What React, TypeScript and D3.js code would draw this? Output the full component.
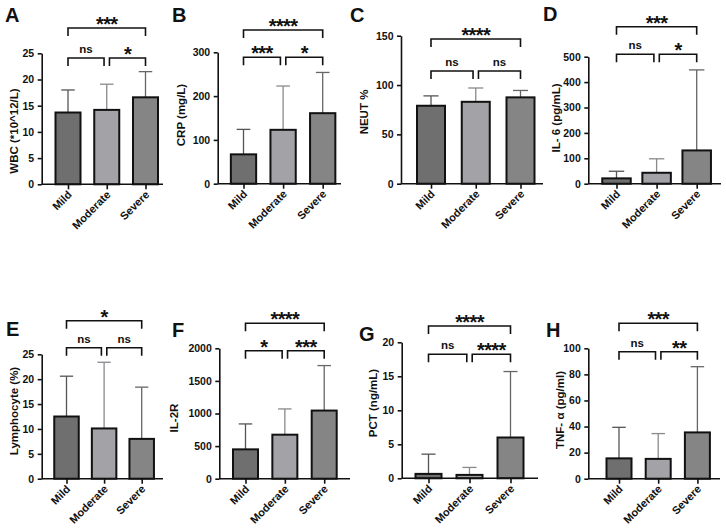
import React, { useEffect, useRef } from 'react';
import * as d3 from 'd3';

const FONT = '"Liberation Sans", Arial, Helvetica, sans-serif';

const groups = ['Mild', 'Moderate', 'Severe'];
const fills = ['#6f6f6f', '#a2a2a7', '#858585'];
const errColors = ['#555555', '#8a8a8e', '#666666'];

// means and upper SD
const wbcMean = [13.7, 14.2, 16.6];
const wbcSd = [4.3, 4.9, 4.9];
const wbcTicks = [0, 5, 10, 15, 20, 25];
const wbcSig = ['***', 'ns', '*'];

const crpMean = [67, 123, 161];
const crpSd = [57, 100, 93];
const crpTicks = [0, 100, 200, 300];
const crpSig = ['****', '***', '*'];

const neutMean = [79, 83, 87.5];
const neutSd = [10, 14, 7];
const neutTicks = [0, 50, 100, 150];
const neutSig = ['****', 'ns', 'ns'];

const il6Mean = [21, 43, 131];
const il6Sd = [28, 55, 317];
const il6Ticks = [0, 100, 200, 300, 400, 500];
const il6Sig = ['***', 'ns', '*'];

const lymMean = [12.5, 10.1, 8.0];
const lymSd = [8.1, 13.3, 10.4];
const lymTicks = [0, 5, 10, 15, 20, 25];
const lymSig = ['*', 'ns', 'ns'];

const il2rMean = [450, 675, 1045];
const il2rSd = [390, 395, 690];
const il2rTicks = [0, 500, 1000, 1500, 2000];
const il2rSig = ['****', '*', '***'];

const pctMean = [0.65, 0.5, 6.0];
const pctSd = [2.9, 1.1, 9.7];
const pctTicks = [0, 5, 10, 15, 20];
const pctSig = ['****', 'ns', '****'];

const tnfMean = [15.6, 15.2, 35.5];
const tnfSd = [23.8, 19.4, 50.4];
const tnfTicks = [0, 20, 40, 60, 80, 100];
const tnfSig = ['***', 'ns', '**'];

// panel layout (pixel frame of each plot)
const panels = [
  { letter: 'A', title: 'WBC (*10^12/L)', mean: wbcMean, sd: wbcSd, ticks: wbcTicks, sig: wbcSig,
    ax: 41.7, yTop: 53.3, y0: 184.3, c: [68, 145.5], bw: 25, xEnd: 163, br: [28, 58], lp: [5, 22], yl: [14, 131] },
  { letter: 'B', title: 'CRP (mg/L)', mean: crpMean, sd: crpSd, ticks: crpTicks, sig: crpSig,
    ax: 217.7, yTop: 52.3, y0: 183.7, c: [243.5, 322.7], bw: 25.3, xEnd: 341, br: [30, 57.3], lp: [172, 22], yl: [181, 115] },
  { letter: 'C', title: 'NEUT %', mean: neutMean, sd: neutSd, ticks: neutTicks, sig: neutSig,
    ax: 401, yTop: 35.7, y0: 183.7, c: [431, 520.5], bw: 28, xEnd: 543, br: [39, 71], lp: [350, 22], yl: [364, 112] },
  { letter: 'D', title: 'IL- 6 (pg/mL)', mean: il6Mean, sd: il6Sd, ticks: il6Ticks, sig: il6Sig,
    ax: 588.3, yTop: 56.7, y0: 183.7, c: [616.5, 696.7], bw: 28.5, xEnd: 721, br: [26.7, 54.3], lp: [543, 21], yl: [556, 118] },
  { letter: 'E', title: 'Lymphocyte (%)', mean: lymMean, sd: lymSd, ticks: lymTicks, sig: lymSig,
    ax: 41.7, yTop: 354.3, y0: 478.7, c: [66.5, 141.7], bw: 24.5, xEnd: 163, br: [320.7, 347.7], lp: [6, 336], yl: [14, 411] },
  { letter: 'F', title: 'IL-2R', mean: il2rMean, sd: il2rSd, ticks: il2rTicks, sig: il2rSig,
    ax: 219.3, yTop: 348.3, y0: 478.7, c: [245.5, 324.2], bw: 25, xEnd: 350, br: [323.3, 350.7], lp: [172, 337], yl: [174, 418] },
  { letter: 'G', title: 'PCT (ng/mL)', mean: pctMean, sd: pctSd, ticks: pctTicks, sig: pctSig,
    ax: 401.7, yTop: 342.3, y0: 478.3, c: [428.5, 510.5], bw: 26, xEnd: 538, br: [326, 354.3], lp: [359, 341], yl: [372.5, 403] },
  { letter: 'H', title: 'TNF- α (pg/ml)', mean: tnfMean, sd: tnfSd, ticks: tnfTicks, sig: tnfSig,
    ax: 588.3, yTop: 348.3, y0: 478.7, c: [619, 697.4], bw: 25, xEnd: 720, br: [323.3, 351.7], lp: [546, 337], yl: [560, 410] },
];

function drawPanel(svg: any, p: any) {
  const y = d3.scaleLinear().domain([0, p.ticks[p.ticks.length - 1]]).range([p.y0, p.yTop]);
  const x = d3.scalePoint<string>().domain(groups).range(p.c);
  const g = svg.append('g').attr('font-family', FONT);
  const ink = '#111';

  // panel letter
  g.append('text').attr('x', p.lp[0]).attr('y', p.lp[1])
    .attr('font-size', 20).attr('font-weight', 'bold').attr('fill', ink).text(p.letter);

  // y title
  g.append('text')
    .attr('transform', `translate(${p.yl[0]},${p.yl[1]}) rotate(-90)`)
    .attr('text-anchor', 'middle').attr('dy', '0.35em')
    .attr('font-size', 11.5).attr('font-weight', 'bold').attr('fill', ink).text(p.title);

  // error bars (upper only)
  const eb = g.selectAll('g.err').data(p.mean).join('g');
  eb.append('line')
    .attr('x1', (_: number, i: number) => x(groups[i])).attr('x2', (_: number, i: number) => x(groups[i]))
    .attr('y1', (d: number) => y(d)).attr('y2', (d: number, i: number) => y(d + p.sd[i]))
    .attr('stroke', (_: number, i: number) => errColors[i]).attr('stroke-width', 1.3);
  eb.append('line')
    .attr('x1', (_: number, i: number) => (x(groups[i]) as number) - p.bw * 0.27)
    .attr('x2', (_: number, i: number) => (x(groups[i]) as number) + p.bw * 0.27)
    .attr('y1', (d: number, i: number) => y(d + p.sd[i])).attr('y2', (d: number, i: number) => y(d + p.sd[i]))
    .attr('stroke', (_: number, i: number) => errColors[i]).attr('stroke-width', 1.3);

  // bars
  g.selectAll('rect.bar').data(p.mean).join('rect')
    .attr('x', (_: number, i: number) => (x(groups[i]) as number) - p.bw / 2)
    .attr('y', (d: number) => y(d))
    .attr('width', p.bw)
    .attr('height', (d: number) => y(0) - y(d))
    .attr('fill', (_: number, i: number) => fills[i])
    .attr('stroke', ink).attr('stroke-width', 2);

  // y axis
  g.append('g').attr('transform', `translate(${p.ax},0)`)
    .call(d3.axisLeft(y).tickValues(p.ticks).tickFormat(d3.format('d')).tickSize(4).tickSizeOuter(0).tickPadding(3.5))
    .call((s: any) => s.attr('font-family', FONT))
    .call((s: any) => s.select('.domain').attr('stroke', ink).attr('stroke-width', 1.6))
    .call((s: any) => s.selectAll('line').attr('stroke', ink).attr('stroke-width', 1.6))
    .call((s: any) => s.selectAll('text').attr('font-size', 10.5).attr('font-weight', 'bold').attr('fill', ink));

  // x axis
  g.append('line').attr('x1', p.ax).attr('x2', p.xEnd).attr('y1', p.y0).attr('y2', p.y0)
    .attr('stroke', ink).attr('stroke-width', 1.6);
  const xa = g.append('g').attr('transform', `translate(0,${p.y0})`)
    .call(d3.axisBottom(x).tickSize(5).tickSizeOuter(0));
  xa.select('.domain').remove();
  xa.selectAll('line').attr('stroke', ink).attr('stroke-width', 1.6);
  xa.selectAll('text')
    .attr('font-family', FONT).attr('font-size', 11).attr('font-weight', 'bold').attr('fill', ink)
    .attr('text-anchor', 'end').attr('dy', null).attr('y', null)
    .attr('transform', 'translate(4,11) rotate(-45)');

  // significance brackets
  const [c0, c1, c2] = groups.map((k) => x(k) as number);
  const drop = 8;
  const gap = 2.7;
  const segs = [
    { a: c0, b: c2, yy: p.br[0], s: p.sig[0] },
    { a: c0, b: c1 - gap, yy: p.br[1], s: p.sig[1] },
    { a: c1 + gap, b: c2, yy: p.br[1], s: p.sig[2] },
  ];
  segs.forEach((sg) => {
    g.append('path')
      .attr('d', `M${sg.a},${sg.yy + drop}V${sg.yy}H${sg.b}V${sg.yy + drop}`)
      .attr('fill', 'none').attr('stroke', ink).attr('stroke-width', 1.6);
    const star = sg.s !== 'ns';
    g.append('text')
      .attr('x', (sg.a + sg.b) / 2)
      .attr('y', star ? sg.yy + 3 : sg.yy - 5)
      .attr('text-anchor', 'middle')
      .attr('font-size', star ? 20 : 11.5)
      .attr('font-weight', 'bold')
      .attr('letter-spacing', star ? -0.6 : 0)
      .attr('fill', ink)
      .text(sg.s);
  });
}

export default function App() {
  const ref = useRef<SVGSVGElement>(null);
  useEffect(() => {
    const svg = d3.select(ref.current);
    svg.selectAll('*').remove();
    panels.forEach((p) => drawPanel(svg, p));
  }, []);
  return (
    <svg ref={ref} width={726} height={531}
      style={{ position: 'absolute', left: 0, top: 0, background: '#fff' }} />
  );
}
